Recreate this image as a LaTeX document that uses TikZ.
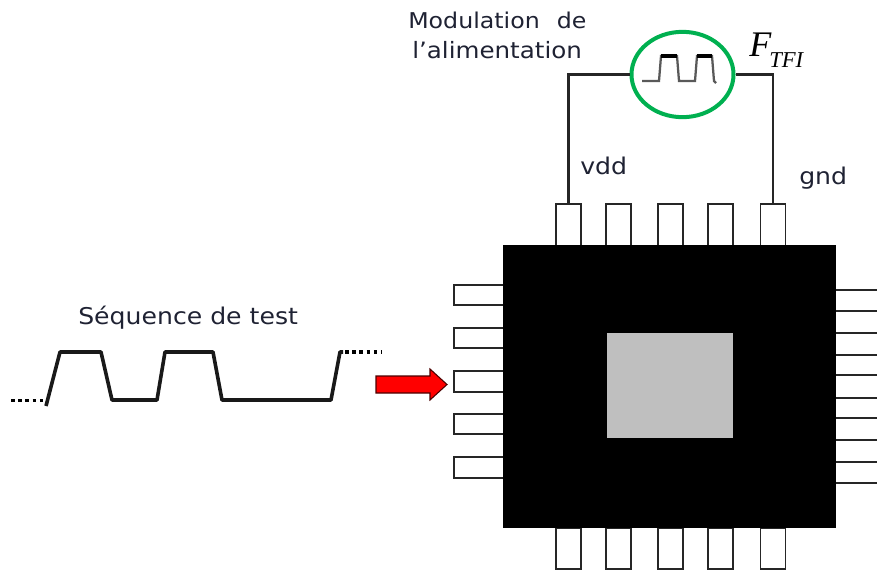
\documentclass[tikz,border=0pt]{standalone}
\usetikzlibrary{shapes.geometric}
\usepackage{fontspec}
\setmainfont[FakeStretch=1.09]{DejaVu Sans}
\newfontfamily\timesfont{Liberation Serif}
\definecolor{txtcol}{HTML}{1F2233}
\definecolor{greenring}{HTML}{00B050}
\definecolor{graycore}{HTML}{BFBFBF}
\tikzset{
  pinbox/.style={draw=black!85,line width=1.4pt,fill=white,rectangle,inner sep=0pt,minimum width=18.75pt,minimum height=32pt},
  sidepin/.style={draw=black!85,line width=1.4pt,fill=white,rectangle,inner sep=0pt,minimum width=38pt,minimum height=15.5pt},
  lbl/.style={text=txtcol,font=\fontsize{17.3}{19}\selectfont,inner sep=0pt,anchor=base west},
  wire/.style={draw=black!85,line width=1.6pt},
  sig/.style={draw=black!90,line width=2.7pt,line join=round},
  dotsline/.style={draw=black,line width=2.7pt,dash pattern=on 2.7pt off 2.7pt}
}
\begin{document}
\begin{tikzpicture}[x=0.75pt,y=-0.75pt]
\useasboundingbox (0,0) rectangle (877,571);
% pins
\foreach \n/\c in {1/568.5,2/618.5,3/670.5,4/720.5,5/773}{
  \node[pinbox,anchor=north] (top\n) at (\c,203) {};
  \node[pinbox,anchor=north,minimum height=31pt] (bot\n) at (\c,527) {};
}
\foreach \n/\c in {1/295,2/338,3/381.5,4/424,5/467.5}{
  \node[sidepin,anchor=west] (left\n) at (453,\c) {};
}
\foreach \n/\y in {1/290,2/311,3/333,4/355,5/375,6/398,7/418,8/440,9/462,10/483}{
  \coordinate (rout\n) at (877,\y);
  \coordinate (rin\n) at (835,\y);
  \draw[wire] (rin\n) -- (rout\n);
}
% chip
\node[fill=black,draw=none,minimum width=249.75pt,minimum height=212.25pt,inner sep=0pt,anchor=north west] (chip) at (503,245) {};
\node[fill=graycore,draw=none,minimum width=94.5pt,minimum height=78.75pt,inner sep=0pt,anchor=north west] (core) at (607,333) {};
% modulation ring
\node[ellipse,draw=greenring,line width=3pt,fill=white,minimum width=76.5pt,minimum height=64pt,inner sep=0pt] (ring) at (682.5,74.5) {};
\draw[wire] (ring.west) -| (top1.north);
\draw[wire] (ring.east) -| (top5.north);
% small pulse in ring
\draw[draw=black!65,line width=1.7pt] (642,81) -- (659,81) -- (661,56) -- (677,56) -- (679,81) -- (695,81) -- (697,56) -- (712,56) -- (714,81) -- (716,83);
\draw[draw=black,line width=2.6pt] (661,56) -- (677,56) (697,56) -- (712,56);
% labels
\node[lbl,font=\fontsize{16.3}{19}\selectfont] (modA) at (408,28) {Modulation\ \ \kern1.5pt de};
\node[lbl,font=\fontsize{16.9}{19}\selectfont] (modB) at (412,58) {l’alimentation};
\node[lbl] (vdd) at (580,174) {vdd};
\node[lbl] (gnd) at (799,184) {gnd};
\node[lbl] (seq) at (78,324) {Séquence de test};
\node[inner sep=0pt,anchor=base west,text=black] (ftfi) at (749,56) {\timesfont\itshape\fontsize{27}{30}\selectfont F};
\node[inner sep=0pt,anchor=base west,text=black] (ftfisub) at (769,67) {\timesfont\itshape\fontsize{17}{18}\selectfont TFI};
% test sequence
\draw[sig] (46,406) -- (60,352) -- (101,352) -- (112,400) -- (157,400) -- (165,352) -- (213,352) -- (222,400) -- (331,400) -- (340,352) -- (343,352);
\draw[dotsline] (11,400.5) -- (46,400.5);
\draw[dotsline] (345,352) -- (382,352);
% red arrow
\path[draw=black!70!red,line width=0.8pt,fill=red] (376,376) -- (430,376) -- (430,369) -- (447,384.5) -- (430,400) -- (430,393) -- (376,393) -- cycle;
\end{tikzpicture}
\end{document}
